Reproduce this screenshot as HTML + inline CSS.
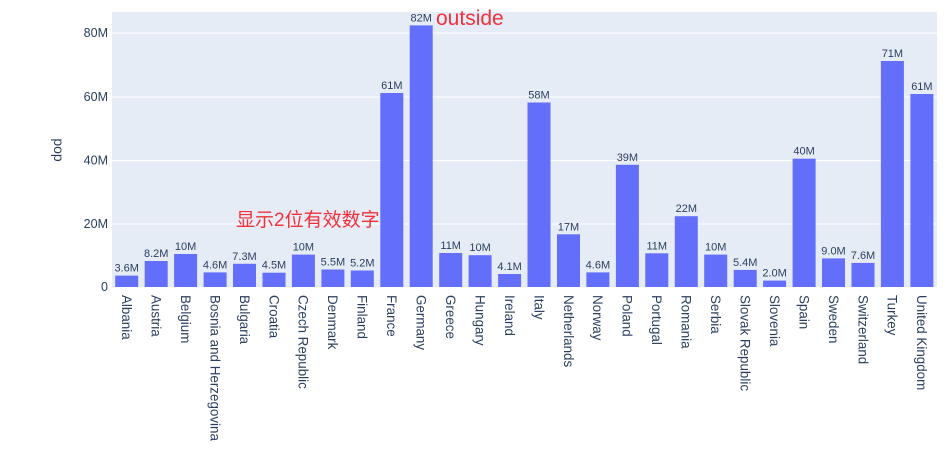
<!DOCTYPE html><html><head><meta charset="utf-8"><style>body{margin:0;background:#fff}svg{display:block;font-family:"Liberation Sans","Noto Sans CJK SC",sans-serif}</style></head><body>
<svg width="951" height="450" viewBox="0 0 951 450">
<rect x="112" y="12" width="825" height="275" fill="#e5ecf6"/>
<g stroke="#fff" stroke-width="1"><line x1="112" x2="937" y1="224" y2="224"/><line x1="112" x2="937" y1="160.5" y2="160.5"/><line x1="112" x2="937" y1="97" y2="97"/><line x1="112" x2="937" y1="33" y2="33"/></g>
<g font-size="12.5" fill="#2a3f5f" text-anchor="end"><text x="108" y="291">0</text><text x="108" y="228">20M</text><text x="108" y="164.5">40M</text><text x="108" y="101">60M</text><text x="108" y="37">80M</text></g>
<text transform="translate(54,150) rotate(90)" font-size="14" fill="#2a3f5f" text-anchor="middle">pop</text>
<g fill="#636efa">
<rect x="115.2" y="275.6" width="23" height="11.4"/><rect x="144.7" y="261" width="23" height="26"/><rect x="174.1" y="254" width="23" height="33"/><rect x="203.6" y="272.4" width="23" height="14.6"/><rect x="233" y="263.8" width="23" height="23.2"/><rect x="262.5" y="272.7" width="23" height="14.3"/><rect x="291.9" y="254.6" width="23" height="32.4"/><rect x="321.4" y="269.5" width="23" height="17.5"/><rect x="350.8" y="270.5" width="23" height="16.5"/><rect x="380.3" y="93" width="23" height="194"/><rect x="409.7" y="25.4" width="23" height="261.6"/><rect x="439.2" y="253" width="23" height="34"/><rect x="468.6" y="255.2" width="23" height="31.8"/><rect x="498.1" y="274" width="23" height="13"/><rect x="527.5" y="102.5" width="23" height="184.5"/><rect x="557" y="234.3" width="23" height="52.7"/><rect x="586.4" y="272.4" width="23" height="14.6"/><rect x="615.9" y="164.8" width="23" height="122.2"/><rect x="645.3" y="253.3" width="23" height="33.7"/><rect x="674.8" y="216.2" width="23" height="70.8"/><rect x="704.2" y="254.6" width="23" height="32.4"/><rect x="733.7" y="269.9" width="23" height="17.1"/><rect x="763.1" y="280.6" width="23" height="6.4"/><rect x="792.6" y="158.7" width="23" height="128.3"/><rect x="822" y="258.4" width="23" height="28.6"/><rect x="851.5" y="262.9" width="23" height="24.1"/><rect x="880.9" y="61" width="23" height="226"/><rect x="910.4" y="94" width="23" height="193"/>
</g>
<g font-size="11" fill="#2a3f5f" text-anchor="middle">
<text x="126.7" y="271.6">3.6M</text><text x="156.2" y="257">8.2M</text><text x="185.6" y="250">10M</text><text x="215.1" y="268.4">4.6M</text><text x="244.5" y="259.8">7.3M</text><text x="274" y="268.7">4.5M</text><text x="303.4" y="250.6">10M</text><text x="332.9" y="265.5">5.5M</text><text x="362.3" y="266.5">5.2M</text><text x="391.8" y="89">61M</text><text x="421.2" y="21.4">82M</text><text x="450.7" y="249">11M</text><text x="480.1" y="251.2">10M</text><text x="509.6" y="270">4.1M</text><text x="539" y="98.5">58M</text><text x="568.5" y="230.3">17M</text><text x="597.9" y="268.4">4.6M</text><text x="627.4" y="160.8">39M</text><text x="656.8" y="249.3">11M</text><text x="686.3" y="212.2">22M</text><text x="715.7" y="250.6">10M</text><text x="745.2" y="265.9">5.4M</text><text x="774.6" y="276.6">2.0M</text><text x="804.1" y="154.7">40M</text><text x="833.5" y="254.4">9.0M</text><text x="863" y="258.9">7.6M</text><text x="892.4" y="57">71M</text><text x="921.9" y="90">61M</text>
</g>
<g font-size="13.4" fill="#2a3f5f">
<text transform="translate(122,295) rotate(90)">Albania</text><text transform="translate(151.5,295) rotate(90)">Austria</text><text transform="translate(180.9,295) rotate(90)">Belgium</text><text transform="translate(210.4,295) rotate(90)">Bosnia and Herzegovina</text><text transform="translate(239.8,295) rotate(90)">Bulgaria</text><text transform="translate(269.3,295) rotate(90)">Croatia</text><text transform="translate(298.7,295) rotate(90)">Czech Republic</text><text transform="translate(328.2,295) rotate(90)">Denmark</text><text transform="translate(357.6,295) rotate(90)">Finland</text><text transform="translate(387.1,295) rotate(90)">France</text><text transform="translate(416.5,295) rotate(90)">Germany</text><text transform="translate(446,295) rotate(90)">Greece</text><text transform="translate(475.4,295) rotate(90)">Hungary</text><text transform="translate(504.9,295) rotate(90)">Ireland</text><text transform="translate(534.3,295) rotate(90)">Italy</text><text transform="translate(563.8,295) rotate(90)">Netherlands</text><text transform="translate(593.2,295) rotate(90)">Norway</text><text transform="translate(622.7,295) rotate(90)">Poland</text><text transform="translate(652.1,295) rotate(90)">Portugal</text><text transform="translate(681.6,295) rotate(90)">Romania</text><text transform="translate(711,295) rotate(90)">Serbia</text><text transform="translate(740.5,295) rotate(90)">Slovak Republic</text><text transform="translate(769.9,295) rotate(90)">Slovenia</text><text transform="translate(799.4,295) rotate(90)">Spain</text><text transform="translate(828.8,295) rotate(90)">Sweden</text><text transform="translate(858.3,295) rotate(90)">Switzerland</text><text transform="translate(887.7,295) rotate(90)">Turkey</text><text transform="translate(917.2,295) rotate(90)">United Kingdom</text>
</g>
<text x="436" y="25" font-size="21" fill="#f2313a">outside</text>
<text x="236" y="226" font-size="19" fill="#f2313a">显示2位有效数字</text>
</svg></body></html>
